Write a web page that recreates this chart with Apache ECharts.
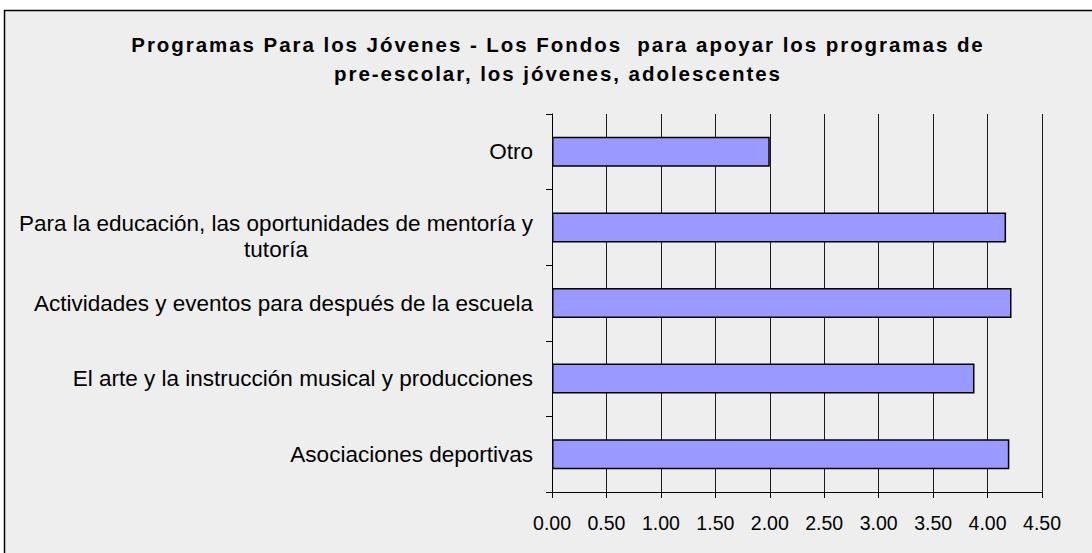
<!DOCTYPE html>
<html>
<head>
<meta charset="utf-8">
<script src="https://cdn.jsdelivr.net/npm/echarts@6/dist/echarts.min.js"></script>
<style>
html,body{margin:0;padding:0;background:#ffffff;}
#c{width:1092px;height:553px;}
#c text[style*="bold"], #c text[font-weight="bold"]{letter-spacing:1.95px;}
</style>
</head>
<body>
<div id="c"></div>
<script>
var titleLines = ['Programas Para los Jóvenes - Los Fondos  para apoyar los programas de', 'pre-escolar, los jóvenes, adolescentes'];
var categories = [
  'Asociaciones deportivas',
  'El arte y la instrucción musical y producciones',
  'Actividades y eventos para después de la escuela',
  'Para la educación, las oportunidades de mentoría y\ntutoría',
  'Otro'
];
var values = [4.20, 3.88, 4.22, 4.17, 2.00];
var xTicks = { min: 0, max: 4.5, interval: 0.5 };

var chart = echarts.init(document.getElementById('c'), null, { renderer: 'svg' });
var FONT = "'Liberation Sans', Arial, sans-serif";
chart.setOption({
  backgroundColor: '#ffffff',
  animation: false,
  graphic: [
    {
      type: 'rect', z: -10, silent: true,
      shape: { x: 4.5, y: 10.5, width: 1100, height: 560 },
      style: { fill: '#eeeeee', stroke: '#000000', lineWidth: 1.5 }
    },
    {
      type: 'text', z: 10, silent: true,
      style: {
        text: titleLines.join('\n'),
        x: 558, y: 58.5,
        textAlign: 'center', textVerticalAlign: 'middle',
        fontFamily: FONT, fontWeight: 'bold', fontSize: 20.5,
        lineHeight: 29, fill: '#000000'
      }
    }
  ],
  grid: { left: 552, right: 50, top: 114, bottom: 61, containLabel: false },
  xAxis: {
    type: 'value',
    min: xTicks.min, max: xTicks.max, interval: xTicks.interval,
    axisLine: { show: true, lineStyle: { color: '#000000', width: 1 } },
    axisTick: { show: true, length: 6, inside: false, lineStyle: { color: '#000000' } },
    splitLine: { show: true, lineStyle: { color: '#1a1a1a', width: 1 } },
    axisLabel: {
      margin: 21, color: '#000000', fontFamily: FONT, fontSize: 19.5,
      formatter: function (v) { return v.toFixed(2); }
    }
  },
  yAxis: {
    type: 'category',
    data: categories,
    axisLine: { show: true, lineStyle: { color: '#000000', width: 1 } },
    axisTick: { show: true, length: 6, inside: false, lineStyle: { color: '#000000' } },
    splitLine: { show: false },
    axisLabel: {
      margin: 19, color: '#000000', fontFamily: FONT, fontSize: 22.5,
      formatter: function (v) {
        return v.indexOf('\n') >= 0 ? '{c|' + v + '}' : v;
      },
      rich: {
        c: {
          width: 514, align: 'center', fontFamily: FONT, fontSize: 22.5,
          lineHeight: 26, color: '#000000', padding: [18, 0, 0, 0]
        }
      }
    }
  },
  series: [{
    type: 'bar',
    data: values,
    barWidth: 30,
    itemStyle: { color: '#9999ff', borderColor: '#000000', borderWidth: 1.5 },
    z: 3
  }]
});
</script>
</body>
</html>
